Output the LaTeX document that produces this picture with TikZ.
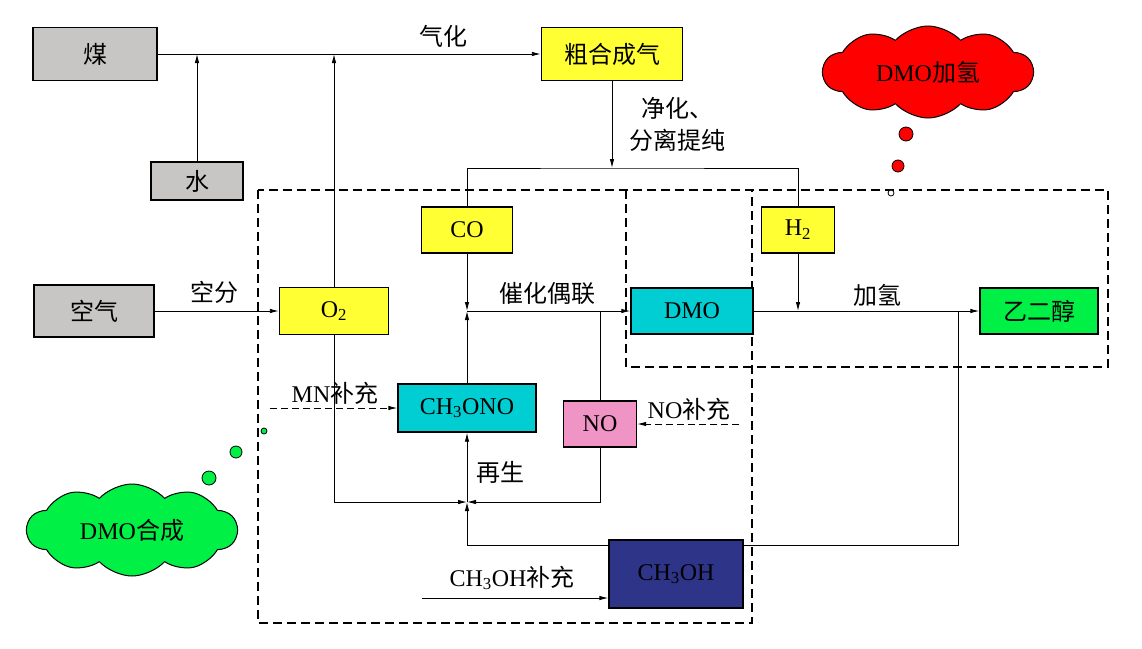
\documentclass[tikz,border=0pt]{standalone}
\usepackage{fontspec}
\setmainfont{Liberation Serif}
\newfontfamily\cjk{Noto Sans CJK SC}
\usetikzlibrary{shapes.symbols,arrows.meta}

\definecolor{ashgray}{RGB}{200,197,197}
\definecolor{lemon}{RGB}{255,255,51}
\definecolor{aqua}{RGB}{0,206,210}
\definecolor{rose}{RGB}{240,148,198}
\definecolor{ink}{RGB}{46,52,136}
\definecolor{leaf}{RGB}{0,240,70}

\tikzset{
  box/.style={draw, line width=1.4pt, inner sep=0pt, font=\fontsize{24}{26}\selectfont},
  flow/.style={line width=0.9pt, -{Latex[length=9pt,width=4.5pt]}},
  pipe/.style={line width=0.9pt},
  feed/.style={flow, dash pattern=on 7pt off 4pt},
  zone/.style={line width=1.5pt, dash pattern=on 9pt off 5pt},
  lbl/.style={font=\fontsize{24}{30}\selectfont},
  bubble/.style={cloud, cloud puffs=10, cloud puff arc=95, aspect=2.6, draw, line width=1pt,
    inner sep=0pt, minimum width=210, minimum height=92, font=\fontsize{24}{26}\selectfont}
}

\begin{document}
\begin{tikzpicture}[x=1pt,y=-1pt]
  \useasboundingbox (0,0) rectangle (1142,648);

  % process zones
  \draw[zone] (258,190) rectangle (752,623);
  \draw[zone] (626,190) rectangle (1108,367);

  % units
  \node[box, fill=ashgray, minimum width=124, minimum height=53] (coal) at (95,54) {\cjk 煤};
  \node[box, fill=ashgray, minimum width=92, minimum height=38] (water) at (197,181) {\cjk 水};
  \node[box, fill=ashgray, minimum width=120, minimum height=52] (air) at (94,311) {\cjk 空气};
  \node[box, fill=lemon, minimum width=141, minimum height=53] (syngas) at (612,54) {\cjk 粗合成气};
  \node[box, fill=lemon, minimum width=91, minimum height=46] (co) at (467,230) {CO};
  \node[box, fill=lemon, minimum width=73, minimum height=46] (htwo) at (798,230) {H\textsubscript{2}};
  \node[box, fill=lemon, minimum width=109, minimum height=47] (otwo) at (334,311) {O\textsubscript{2}};
  \node[box, fill=aqua, minimum width=122, minimum height=46] (dmo) at (692,311) {DMO};
  \node[box, fill=leaf, minimum width=118, minimum height=46] (eg) at (1039,311) {\cjk 乙二醇};
  \node[box, fill=aqua, minimum width=138, minimum height=48] (mn) at (467,408) {CH\textsubscript{3}ONO};
  \node[box, fill=rose, minimum width=73, minimum height=46] (no) at (600,424) {NO};
  \node[box, fill=ink, minimum width=134, minimum height=68] (meoh) at (676,574) {CH\textsubscript{3}OH};

  % junctions and free ends
  \coordinate (split) at (612,168);
  \coordinate (jcouple) at (467,311);
  \coordinate (jregen) at (467,502);
  \coordinate (jreturn) at (958,311);
  \coordinate (mnfeed) at (270,408);
  \coordinate (nofeed) at (739,424);
  \coordinate (meohfeed) at (422,598);

  % connectors
  \draw[flow] (coal.east) -- (syngas.west);
  \draw[flow] (water.north) -- (water.north |- coal.east);
  \draw[flow] (otwo.north) -- (otwo.north |- coal.east);
  \draw[flow] (syngas.south) -- (split);
  \draw[pipe] (co.north) |- (split) -| (htwo.north);
  \draw[flow] (air.east) -- (otwo.west);
  \draw[flow] (co.south) -- (jcouple);
  \draw[flow] (mn.north) -- (jcouple);
  \draw[flow] (jcouple) -- (dmo.west);
  \draw[pipe] (no.north) -- (no.north |- jcouple);
  \draw[flow] (otwo.south) |- (jregen);
  \draw[flow] (no.south) |- (jregen);
  \draw[flow] ([yshift=-6pt]meoh.north west) -| (jregen);
  \draw[flow] (jregen) -- (mn.south);
  \draw[pipe] ([yshift=-6pt]meoh.north east) -| (jreturn);
  \draw[flow] (dmo.east) -- (eg.west);
  \draw[flow] (htwo.south) -- (htwo.south |- dmo.east);
  \draw[feed] (mnfeed) -- (mn.west);
  \draw[feed] (nofeed) -- (no.east);
  \draw[flow] (meohfeed) -- (meohfeed -| meoh.west);

  % labels
  \node[lbl] (gasify) at (443,36) {\cjk 气化};
  \node[font=\cjk\fontsize{24}{32}\selectfont, align=center] (purify) at (677,124) {净化、\\分离提纯};
  \node[lbl] (airsep) at (214,292) {\cjk 空分};
  \node[lbl] (couple) at (547,293) {\cjk 催化偶联};
  \node[lbl] (hydro) at (877,295) {\cjk 加氢};
  \node[lbl] (mnadd) at (335,393) {MN\cjk 补充};
  \node[lbl] (noadd) at (689,409) {NO\cjk 补充};
  \node[lbl] (regen) at (500,472) {\cjk 再生};
  \node[lbl] (meohadd) at (512,578) {CH\textsubscript{3}OH\cjk 补充};

  % clouds
  \node[bubble, fill=red] (hydrozone) at (928,72) {DMO\cjk 加氢};
  \node[bubble, fill=leaf] (synzone) at (132,530) {DMO\cjk 合成};
  \foreach \x/\y/\r/\c in {906/134/7/red, 898/166/6/red, 891/193/3/white,
                           209/478/7/leaf, 236/452/6/leaf, 264/431/3/leaf}
    \draw[line width=0.8pt, fill=\c] (\x,\y) circle (\r pt);
\end{tikzpicture}
\end{document}
